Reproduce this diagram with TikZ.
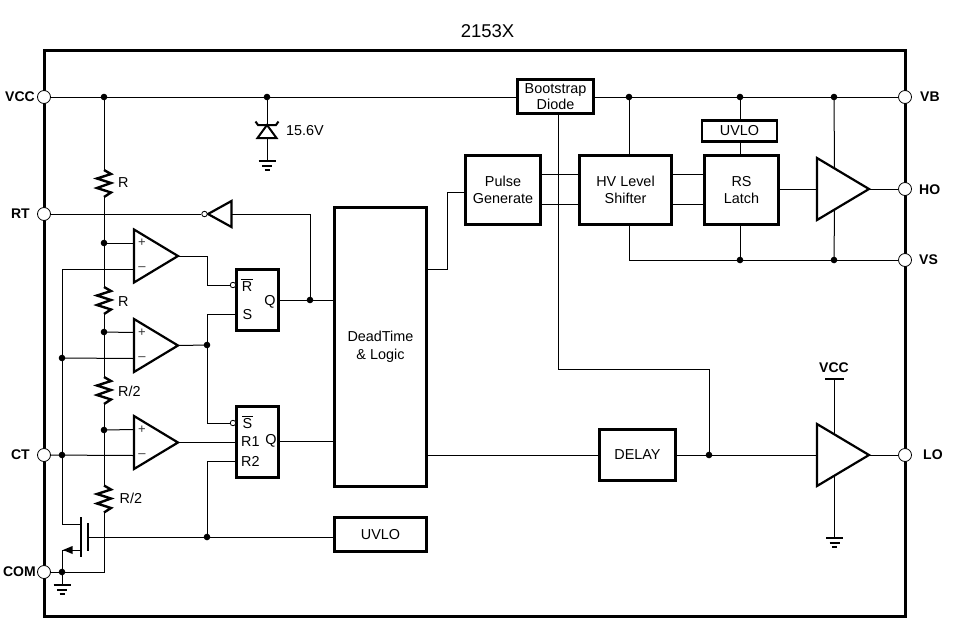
\documentclass[tikz,border=0pt]{standalone}
\usepackage{fontspec}
\setmainfont{Liberation Sans}
\newcommand{\txt}{\fontsize{14.4}{17}\selectfont}
\newcommand{\pinf}{\fontsize{14}{17}\selectfont\bfseries}
\newcommand{\barred}[1]{$\overline{\mbox{\rule{0pt}{11.5pt}\hspace{0.6pt}#1\hspace{0.6pt}}}$}
\tikzset{
  wire/.style={line width=1pt,line join=miter},
  block/.style={draw,line width=2.4pt,fill=white,align=center,inner sep=0pt,font=\txt,minimum width=#1},
  pin/.style={circle,draw,line width=0.8pt,fill=white,minimum size=13pt,inner sep=0pt},
  dot/.style={circle,fill=black,minimum size=6.6pt,inner sep=0pt},
  bubble/.style={circle,draw,line width=0.8pt,fill=white,minimum size=5.5pt,inner sep=0pt},
  lbl/.style={font=\txt,inner sep=0pt},
  pinlbl/.style={font=\pinf,inner sep=0pt},
  resist/.style={line width=2.4pt,line join=miter},
  tri/.style={line width=2.2pt,line join=miter},
  gnd/.pic={
    \draw[line width=2pt] (-8.5,0) -- (8.5,0);
    \draw[line width=2pt] (-5,4.5) -- (5,4.5);
    \draw[line width=2pt] (-2.5,9) -- (2.5,9);
  },
  cmp/.pic={
    \draw[tri] (0,0) -- (44,26.5) -- (0,53) -- cycle;
    \coordinate (-plus) at (0,13.5);
    \coordinate (-minus) at (0,39.5);
    \coordinate (-out) at (44,26.5);
    \node[inner sep=0pt,font=\fontsize{13}{13}\selectfont,text=black!80] at (8,13.5) {+};
    \node[inner sep=0pt,font=\fontsize{13}{13}\selectfont,text=black!80] at (8,39.5) {–};
  },
  drv/.pic={
    \draw[tri] (0,0) -- (52,31) -- (0,62) -- cycle;
    \coordinate (-in) at (0,31);
    \coordinate (-out) at (52,31);
    \coordinate (-top) at (17.5,10.4);
    \coordinate (-bot) at (17.5,51.6);
  },
  zigzag/.pic={
    \draw[resist] (0,0) -- (7,4) -- (-7,8.5) -- (7,13) -- (-7,18) -- (7,22.5) -- (0,27);
  }
}
\begin{document}
\begin{tikzpicture}[x=1pt,y=-1pt]
\useasboundingbox (0,0) rectangle (953,625);
\fill[white] (0,0) rectangle (953,625);
% frame
\draw[line width=3pt] (44,50) rectangle (905,616);
\node[inner sep=0pt,font=\fontsize{18.5}{20}\selectfont] (title) at (487.5,31) {2153X};
% pins
\node[pin] (VCC) at (44,97) {};
\node[pin] (RT) at (44,214) {};
\node[pin] (CT) at (44,455) {};
\node[pin] (COM) at (44,572) {};
\node[pin] (VB) at (905,97) {};
\node[pin] (HO) at (905,189) {};
\node[pin] (VS) at (905,260) {};
\node[pin] (LO) at (905,455) {};
\node[pinlbl,anchor=east] (lVCC) at (35,97) {VCC};
\node[pinlbl,anchor=east] (lRT) at (30,214) {RT};
\node[pinlbl,anchor=east] (lCT) at (30,455) {CT};
\node[pinlbl,anchor=east] (lCOM) at (36,572) {COM};
\node[pinlbl,anchor=west] (lVB) at (920,97) {VB};
\node[pinlbl,anchor=west] (lHO) at (919,190) {HO};
\node[pinlbl,anchor=west] (lVS) at (919,260) {VS};
\node[pinlbl,anchor=west] (lLO) at (923,455) {LO};
\node[pinlbl] (lVCC2) at (834,368) {VCC};
% blocks
\node[block=76pt,minimum height=34pt] (boot) at (555.5,96.5) {Bootstrap\\[-1.5pt]Diode};
\node[block=75pt,minimum height=21pt] (uvlotop) at (739.5,131) {UVLO};
\node[block=75pt,minimum height=69pt] (pulse) at (503,190) {Pulse\\[0.5pt]Generate};
\node[block=92pt,minimum height=69pt] (hv) at (625.5,190) {HV Level\\[0.5pt]Shifter};
\node[block=74pt,minimum height=69pt] (rs) at (741.5,190) {RS\\[0.5pt]Latch};
\node[block=92pt,minimum height=279pt] (dead) at (380.5,347) {DeadTime\\[0.5pt]\& Logic};
\node[block=76pt,minimum height=51pt] (delay) at (637.5,455) {DELAY};
\node[block=92pt,minimum height=34pt] (uvlo) at (380.5,534.5) {UVLO};
\node[block=42pt,minimum height=61pt] (sr1) at (257.5,300) {};
\node[block=42pt,minimum height=71pt] (sr2) at (257.5,442) {};
\node[lbl] (srR) at (247,285) {\barred{R}};
\node[lbl] (srS) at (247.5,315) {S};
\node[lbl] (srQ) at (270,302) {Q};
\node[lbl] (sr2S) at (247.5,422) {\barred{S}};
\node[lbl,anchor=west] (sr2R1) at (241,442) {R1};
\node[lbl,anchor=west] (sr2R2) at (241,461) {R2};
\node[lbl] (sr2Q) at (271,441) {Q};
% comparators, drivers
\pic (c1) at (134,229.5) {cmp};
\pic (c2) at (134,319) {cmp};
\pic (c3) at (134,416) {cmp};
\pic (d1) at (817,158) {drv};
\pic (d2) at (817,424) {drv};
% inverter
\draw[tri] (231.5,201) -- (231.5,227) -- (208,214) -- cycle;
\coordinate (invin) at (231.5,214);
\node[bubble] (invb) at (204.5,214) {};
\node[bubble] (sr1b) at (233,285) {};
\node[bubble] (sr2b) at (233,423) {};
% junction dots
\foreach \n/\x/\y in {j1/104/97,j2/267/97,j3/629/97,j4/740/97,j5/834/97,j6/740/260,j7/834/260,
  j8/709/455,j9/310/300,j10/207/345,j11/207/537,j12/104/243,j13/104/332,j14/104/430,j15/62/358,j16/62/455,j17/62/572}
  \node[dot] (\n) at (\x,\y) {};
% resistors
\pic (r1) at (104,170) {zigzag};
\coordinate (r1t) at (104,170); \coordinate (r1b) at (104,197);
\pic (r2) at (104,287) {zigzag};
\coordinate (r2t) at (104,287); \coordinate (r2b) at (104,314);
\pic (r3) at (104,377) {zigzag};
\coordinate (r3t) at (104,377); \coordinate (r3b) at (104,404);
\pic (r4) at (104,485.5) {zigzag};
\coordinate (r4t) at (104,485.5); \coordinate (r4b) at (104,512.5);
\node[lbl,anchor=west] (lr1) at (118,183) {R};
\node[lbl,anchor=west] (lr2) at (118,302) {R};
\node[lbl,anchor=west] (lr3) at (118,391) {R/2};
\node[lbl,anchor=west] (lr4) at (119.5,498.5) {R/2};
% wires: supply
\draw[wire] (VCC) -- (boot.west |- VCC);
\draw[wire] (boot.east |- VB) -- (VB);
\draw[wire] (j1.center) -- (r1t);
\draw[wire] (r1b) -- (r2t);
\draw[wire] (r2b) -- (r3t);
\draw[wire] (r3b) -- (r4t);
\draw[wire] (r4b) -- (j17.center -| r4b) -- (COM);
\draw[wire] (j3.center) -- (j3.center |- hv.north);
\draw[wire] (j4.center) -- (j4.center |- uvlotop.north);
\draw[wire] (j4.center |- uvlotop.south) -- (j4.center |- rs.north);
\draw[wire] (j5.center) -- (d1-top);
\draw[wire] (d1-bot) -- (j7.center);
\draw[wire] (hv.south -| j3.center) -- (j3.center |- VS) -- (VS);
\draw[wire] (j6.center |- rs.south) -- (j6.center);
% block-to-block
\draw[wire] (pulse.east |- 0,174) -- (hv.west |- 0,174);
\draw[wire] (pulse.east |- 0,204) -- (hv.west |- 0,204);
\draw[wire] (hv.east |- 0,174) -- (rs.west |- 0,174);
\draw[wire] (hv.east |- 0,204) -- (rs.west |- 0,204);
\draw[wire] (rs.east |- d1-in) -- (d1-in);
\draw[wire] (d1-out) -- (HO);
\draw[wire] (d2-out) -- (LO);
\coordinate (bsa) at (558,369);
\coordinate (bsb) at (709,369);
\draw[wire] (boot.south -| bsa) -- (bsa) -- (bsb) -- (j8.center);
\draw[wire] (dead.east |- delay.west) -- (delay.west);
\draw[wire] (delay.east) -- (d2-in);
\coordinate (pga) at (447,192);
\draw[wire] (pulse.west |- pga) -- (pga) -- (pga |- 0,269) -- (dead.east |- 0,269);
% LO driver supply
\coordinate (vccbar) at (834.5,379);
\draw[line width=2pt] (825,379) -- (844,379);
\draw[wire] (vccbar) -- (d2-top);
\coordinate (gndlo) at (834.5,538);
\draw[wire] (d2-bot) -- (gndlo);
\pic (g3) at (gndlo) {gnd};
% zener
\coordinate (ztop) at (267,125);
\coordinate (zbot) at (267,138);
\coordinate (zgnd) at (267,161);
\draw[wire] (j2.center) -- (ztop);
\draw[wire] (zbot) -- (zgnd);
\draw[tri,line width=2pt] (ztop) -- (276.5,138) -- (257.5,138) -- cycle;
\draw[line width=2pt] (255.5,121.5) -- (258,125) -- (276,125) -- (278.5,121.5);
\pic (g1) at (zgnd) {gnd};
\node[lbl,anchor=west] (zl) at (286,131) {15.6V};
% left logic
\draw[wire] (RT) -- (invb);
\draw[wire] (invin) -- (310,214) -- (j9.center);
\draw[wire] (sr1.east |- j9) -- (dead.west |- j9);
\draw[wire] (c1-plus) -- (j12.center);
\draw[wire] (c2-plus) -- (j13.center);
\draw[wire] (c3-plus) -- (j14.center);
\coordinate (c1ma) at (62,269);
\draw[wire] (c1-minus) -- (c1ma) -- (62,524) -- (80,524);
\draw[wire] (c2-minus) -- (j15.center);
\draw[wire] (c3-minus) -- (CT);
\draw[wire] (c1-out) -- (207,256) -- (207,285) -- (sr1b);
\draw[wire] (c2-out) -- (j10.center);
\draw[wire] (sr1.west |- 0,314) -- (207,314) -- (207,423) -- (sr2b);
\draw[wire] (c3-out) -- (sr2.west |- c3-out);
\draw[wire] (sr2.west |- 0,461) -- (207,461) -- (j11.center);
\draw[wire] (sr2.east |- 0,441) -- (dead.west |- 0,441);
\draw[wire] (uvlo.west |- j11) -- (88,537);
% MOSFET
\draw[line width=2pt] (88,523) -- (88,551);
\draw[line width=2pt] (80.5,517) -- (80.5,557);
\coordinate (srcn) at (62,550);
\draw[wire] (80.5,550) -- (srcn) -- (j17.center);
\fill (63,550) -- (72.5,546) -- (72.5,554) -- cycle;
% ground COM
\coordinate (gcom) at (62,585);
\draw[wire] (j17.center) -- (gcom);
\pic (g2) at (gcom) {gnd};
\end{tikzpicture}
\end{document}
